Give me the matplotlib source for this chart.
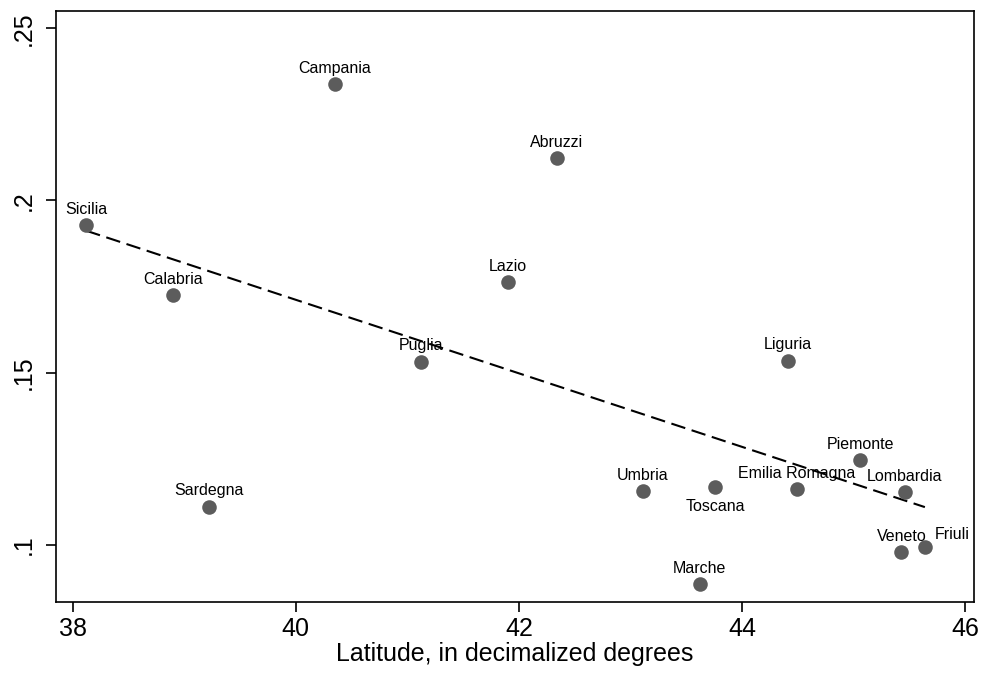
import numpy as np
import matplotlib
matplotlib.use("Agg")
import matplotlib.pyplot as plt

plt.rcParams['font.family'] = ['Liberation Sans', 'DejaVu Sans']

# regions, latitude and rate
regions = ["Sicilia", "Calabria", "Campania", "Abruzzi", "Lazio", "Puglia",
           "Liguria", "Sardegna", "Umbria", "Toscana", "Marche",
           "Emilia Romagna", "Piemonte", "Lombardia", "Veneto", "Friuli"]
latitude = [38.12, 38.90, 40.35, 42.34, 41.90, 41.12,
            44.41, 39.22, 43.11, 43.76, 43.62,
            44.49, 45.06, 45.46, 45.43, 45.64]
rate = [0.1929, 0.1726, 0.2338, 0.2123, 0.1763, 0.1532,
        0.1535, 0.1111, 0.1157, 0.1168, 0.0886,
        0.1162, 0.1247, 0.1153, 0.0978, 0.0993]
# label position (Stata clock style): 12 = above, 6 = below, 2 = upper right
label_pos = [12, 12, 12, 12, 12, 12, 12, 12, 12, 6, 12, 12, 12, 12, 12, 2]

x_ticks = [38, 40, 42, 44, 46]
y_ticks = [0.1, 0.15, 0.2, 0.25]
y_tick_labels = [".1", ".15", ".2", ".25"]

fig = plt.figure(figsize=(9.84, 6.78), dpi=100)
ax = fig.add_axes([0.0569, 0.1121, 0.9329, 0.8717])

ax.scatter(latitude, rate, s=110, color='#5c5c5c', zorder=3, linewidths=0)

for name, xv, yv, pos in zip(regions, latitude, rate, label_pos):
    if pos == 12:
        ax.annotate(name, (xv, yv), xytext=(0, 8), textcoords='offset points',
                    ha='center', va='baseline', fontsize=11.5)
    elif pos == 6:
        ax.annotate(name, (xv, yv), xytext=(0, -9), textcoords='offset points',
                    ha='center', va='top', fontsize=11.5)
    else:
        ax.annotate(name, (xv, yv), xytext=(7, 4), textcoords='offset points',
                    ha='left', va='bottom', fontsize=11.5)

# linear fit
b, a = np.polyfit(latitude, rate, 1)
xs = np.array([min(latitude), max(latitude)])
ax.plot(xs, a + b * xs, color='black', lw=1.5, linestyle=(0, (7, 3.2)), zorder=2)

ax.set_xlim(37.85, 46.08)
ax.set_ylim(0.0834, 0.255)
ax.set_xticks(x_ticks)
ax.set_yticks(y_ticks)
ax.set_yticklabels(y_tick_labels, rotation=90, va='center')
ax.tick_params(axis='both', labelsize=18, length=7.5, width=1.2, direction='out')
ax.tick_params(axis='y', pad=7)
ax.tick_params(axis='x', pad=3)
for sp in ax.spines.values():
    sp.set_linewidth(1.2)

ax.set_xlabel("Latitude, in decimalized degrees", fontsize=18, labelpad=1)

fig.savefig("out.png", dpi=100)
